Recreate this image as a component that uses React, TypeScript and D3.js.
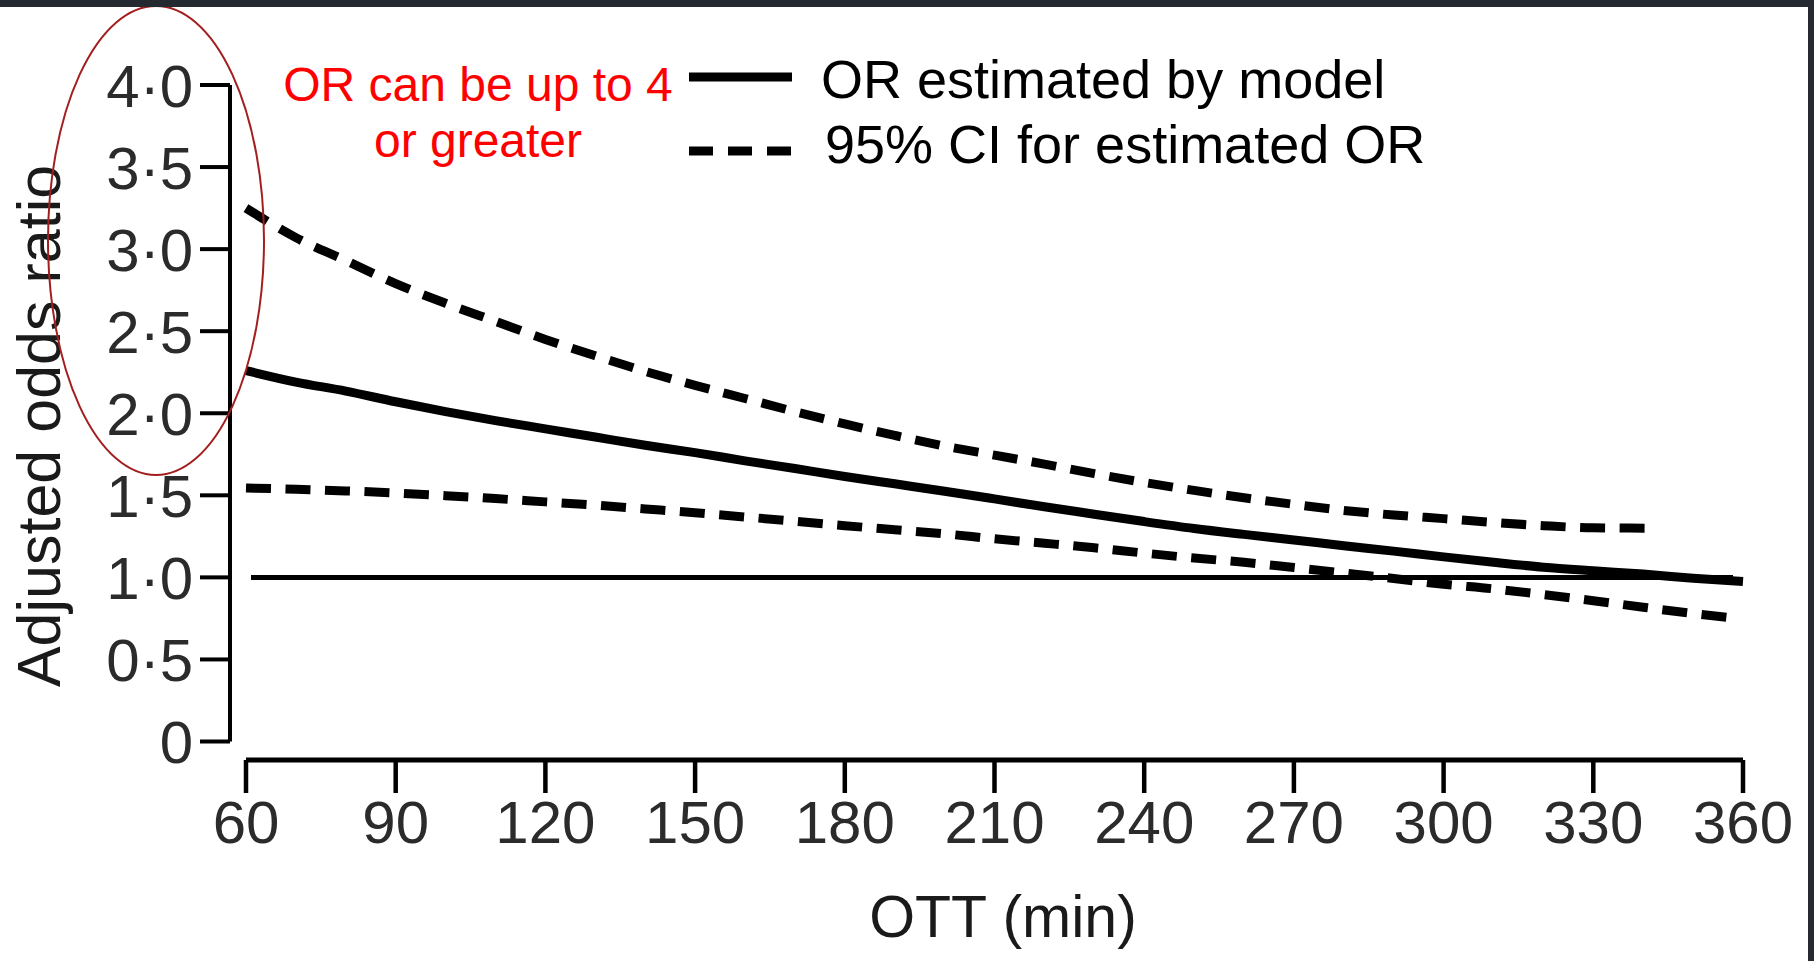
import React from "react";
import * as d3 from "d3";

const ottMinutes = [
  60, 70, 80, 90, 100, 110, 120, 130, 140, 150, 160, 170, 180, 190, 200, 210,
  220, 230, 240, 250, 260, 270, 280, 290, 300, 310, 320, 330, 340, 350, 360,
];
const orEstimate = [
  2.26, 2.19, 2.135, 2.07, 2.01, 1.955, 1.905, 1.855, 1.805, 1.76, 1.71, 1.663,
  1.615, 1.57, 1.525, 1.478, 1.43, 1.385, 1.34, 1.298, 1.262, 1.228, 1.193,
  1.16, 1.125, 1.092, 1.062, 1.04, 1.02, 0.995, 0.975,
];
// upper CI stops near 341 min
const ciUpperMinutes = [
  60, 70, 80, 90, 100, 110, 120, 130, 140, 150, 160, 170, 180, 190, 200, 210,
  220, 230, 240, 250, 260, 270, 280, 290, 300, 310, 320, 330, 341,
];
const ciUpper = [
  3.25, 3.07, 2.93, 2.79, 2.67, 2.56, 2.45, 2.35, 2.255, 2.17, 2.09, 2.01, 1.935,
  1.865, 1.8, 1.745, 1.69, 1.632, 1.578, 1.53, 1.485, 1.445, 1.408, 1.38, 1.358,
  1.335, 1.315, 1.302, 1.3,
];
// lower CI stops near 357 min
const ciLowerMinutes = [
  60, 70, 80, 90, 100, 110, 120, 130, 140, 150, 160, 170, 180, 190, 200, 210,
  220, 230, 240, 250, 260, 270, 280, 290, 300, 310, 320, 330, 340, 350, 357,
];
const ciLower = [
  1.545, 1.537, 1.527, 1.514, 1.498, 1.48, 1.46, 1.44, 1.417, 1.394, 1.368,
  1.342, 1.315, 1.29, 1.265, 1.235, 1.208, 1.18, 1.148, 1.118, 1.092, 1.06,
  1.027, 0.993, 0.958, 0.93, 0.895, 0.858, 0.818, 0.78, 0.756,
];
const referenceMinutes = [61, 358];
const referenceOR = [1, 1];

const xTicks = [60, 90, 120, 150, 180, 210, 240, 270, 300, 330, 360];
const yTicks = [0, 0.5, 1, 1.5, 2, 2.5, 3, 3.5, 4];
const yTickLabels = ["0", "0·5", "1·0", "1·5", "2·0", "2·5", "3·0", "3·5", "4·0"];
const legendLabels = ["OR estimated by model", "95% CI for estimated OR"];
const noteLines = ["OR can be up to 4", "or greater"];

const W = 1814;
const H = 961;
const FONT = "'Liberation Sans', Arial, Helvetica, sans-serif";

type Pt = { x: number; y: number };
const zip = (xs: number[], ys: number[]): Pt[] => xs.map((x, i) => ({ x, y: ys[i] }));

export default function App() {
  const x = d3.scaleLinear().domain([60, 360]).range([246, 1743]);
  const y = d3.scaleLinear().domain([0, 4]).range([741.5, 85]);

  const line = d3
    .line<Pt>()
    .x((d) => x(d.x))
    .y((d) => y(d.y))
    .curve(d3.curveMonotoneX);

  const axisX = 230; // y axis position
  const axisY = 760; // x axis position

  return (
    <svg
      width={W}
      height={H}
      style={{ position: "fixed", left: 0, top: 0, display: "block", background: "#fff" }}
      fontFamily={FONT}
    >
      <rect x={0} y={0} width={W} height={H} fill="#fff" />

      {/* y axis */}
      <line x1={axisX} x2={axisX} y1={y(4)} y2={y(0)} stroke="#000" strokeWidth={4} />
      {yTicks.map((t, i) => (
        <g key={t} transform={`translate(0,${y(t)})`}>
          <line x1={axisX - 30} x2={axisX} stroke="#000" strokeWidth={4} />
          <text x={193} y={21.5} textAnchor="end" fontSize={60} fill="#2b2b2b">
            {yTickLabels[i]}
          </text>
        </g>
      ))}
      <text
        transform={`translate(60,426) rotate(-90)`}
        textAnchor="middle"
        fontSize={61}
        fill="#1a1a1a"
      >
        Adjusted odds ratio
      </text>

      {/* x axis */}
      <line x1={x(60)} x2={x(360)} y1={axisY} y2={axisY} stroke="#000" strokeWidth={5} />
      {xTicks.map((t) => (
        <g key={t} transform={`translate(${x(t)},${axisY})`}>
          <line y1={0} y2={33} stroke="#000" strokeWidth={4.5} />
          <text y={83} textAnchor="middle" fontSize={60} fill="#2b2b2b">
            {t}
          </text>
        </g>
      ))}
      <text x={1003} y={937} textAnchor="middle" fontSize={59} fill="#1a1a1a">
        OTT (min)
      </text>

      {/* reference line at OR = 1 */}
      <path d={line(zip(referenceMinutes, referenceOR)) || ""} fill="none" stroke="#000" strokeWidth={5} />

      {/* CI lines */}
      <path
        d={line(zip(ciUpperMinutes, ciUpper)) || ""}
        fill="none"
        stroke="#000"
        strokeWidth={9}
        strokeDasharray="25 14.5"
      />
      <path
        d={line(zip(ciLowerMinutes, ciLower)) || ""}
        fill="none"
        stroke="#000"
        strokeWidth={9}
        strokeDasharray="25 14.5"
      />
      {/* model estimate */}
      <path d={line(zip(ottMinutes, orEstimate)) || ""} fill="none" stroke="#000" strokeWidth={9} />

      {/* legend */}
      <line x1={689} x2={792} y1={77} y2={77} stroke="#000" strokeWidth={9} />
      <text x={821} y={98} fontSize={54} fill="#000">
        {legendLabels[0]}
      </text>
      <line x1={689} x2={792} y1={151} y2={151} stroke="#000" strokeWidth={9} strokeDasharray="24 15" />
      <text x={825} y={163} fontSize={54} fill="#000">
        {legendLabels[1]}
      </text>

      {/* annotation */}
      {noteLines.map((s, i) => (
        <text key={s} x={478} y={101 + i * 56} textAnchor="middle" fontSize={48} fill="#ff0000">
          {s}
        </text>
      ))}
      <ellipse cx={156} cy={240.5} rx={108} ry={234.5} fill="none" stroke="#a31f1f" strokeWidth={2} />

      {/* window frame */}
      <rect x={0} y={0} width={W} height={7} fill="#252a31" />
      <rect x={1808} y={0} width={6} height={H} fill="#252a31" />
    </svg>
  );
}
